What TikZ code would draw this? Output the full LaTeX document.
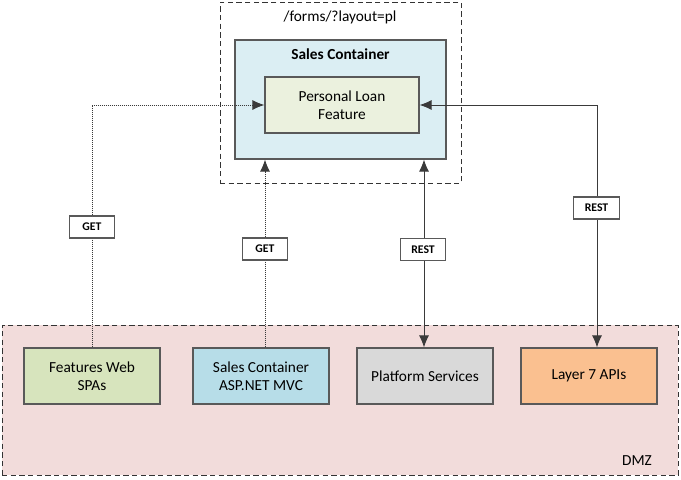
\documentclass[tikz,border=0pt]{standalone}
\usepackage{fontspec}
\setmainfont{Carlito}
\usetikzlibrary{arrows.meta}
\definecolor{bordergray}{HTML}{595959}
\definecolor{linegray}{HTML}{3A3A3A}
\definecolor{scfill}{HTML}{DBEEF3}
\definecolor{plfill}{HTML}{EBF1DE}
\definecolor{dmzfill}{HTML}{F2DCDB}
\definecolor{fwfill}{HTML}{D7E4BD}
\definecolor{mvcfill}{HTML}{B7DDE8}
\definecolor{psfill}{HTML}{D9D9D9}
\definecolor{l7fill}{HTML}{FAC090}
\tikzset{
  x=0.75pt, y=-0.75pt,
  txt/.style={font=\fontsize{11.5}{13.5}\selectfont, align=center, text=black},
  svc/.style={draw=bordergray, line width=0.8pt, minimum width=102pt, minimum height=42pt, inner sep=0pt, txt},
  lbl/.style={draw=bordergray, fill=white, line width=0.8pt, minimum width=34pt, minimum height=16.5pt, inner sep=0pt, font=\fontsize{8.8}{10}\selectfont\bfseries},
  conn/.style={draw=linegray, line width=0.75pt},
  dotconn/.style={draw=linegray, line width=0.75pt, dash pattern=on 0.75pt off 0.75pt},
  ah/.tip={Latex[length=9pt,width=7.5pt]},
  grp/.style={draw=black!80, line width=0.75pt, dash pattern=on 4pt off 2.5pt},
}
\begin{document}
\begin{tikzpicture}
\useasboundingbox (0,0) rectangle (681,479);
% DMZ
\node[grp, fill=dmzfill, minimum width=507pt, minimum height=112.5pt, inner sep=0pt] (dmz) at (340,400) {};
\node[txt, anchor=center] (dmzt) at (637,461) {DMZ};
% top group
\node[grp, minimum width=180.75pt, minimum height=135.75pt, inner sep=0pt] (web) at (340.5,92.5) {};
\node[txt] (url) at (340,17) {/forms/?layout=pl};
\node[draw=bordergray, line width=0.8pt, fill=scfill, minimum width=158.25pt, minimum height=89.25pt, inner sep=0pt] (sc) at (340.5,99.5) {};
\node[txt, font=\fontsize{11.5}{13.5}\selectfont\bfseries] (sct) at (340.5,54) {Sales Container};
\node[draw=bordergray, line width=0.8pt, fill=plfill, minimum width=115.5pt, minimum height=42pt, inner sep=0pt, txt] (pl) at (342,105) {Personal Loan\\Feature};
% services
\node[svc, fill=fwfill] (fw) at (92,376) {Features Web\\SPAs};
\node[svc, fill=mvcfill] (mvc) at (261,376) {Sales Container\\ASP.NET MVC};
\node[svc, fill=psfill] (ps) at (425,376) {Platform Services};
\node[svc, fill=l7fill] (l7) at (589,376) {Layer 7 APIs};
% connectors
\coordinate (c1) at (92,105);
\draw[dotconn, -ah] (fw.north -| c1) -- (c1) -- (pl.west);
\coordinate (c2) at (265,376);
\draw[dotconn, -ah] (mvc.north -| c2) -- (sc.south -| c2);
\coordinate (c3) at (424,376);
\draw[conn, ah-ah] (sc.south -| c3) -- (ps.north -| c3);
\coordinate (c4) at (597,105);
\draw[conn, ah-ah] (pl.east) -- (c4) -- (l7.north -| c4);
% labels
\node[lbl] (g1) at (92,227) {GET};
\node[lbl] (g2) at (265,249) {GET};
\node[lbl] (r1) at (423,249.5) {REST};
\node[lbl] (r2) at (596.5,208) {REST};
\end{tikzpicture}
\end{document}
